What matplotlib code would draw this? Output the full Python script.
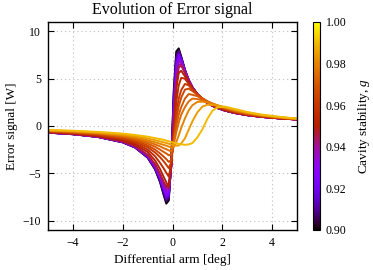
import matplotlib

matplotlib.use("Agg")
import matplotlib.pyplot as plt
import numpy as np
from matplotlib import cm, colors

plt.rcParams["font.family"] = ["Liberation Serif", "DejaVu Serif"]
plt.rcParams["mathtext.fontset"] = "custom"
plt.rcParams["mathtext.it"] = "Liberation Serif:italic"
plt.rcParams["mathtext.rm"] = "Liberation Serif"

# differential arm angle [deg], shared by all curves
arm_deg = [-5, -4, -3, -2, -1.5, -1, -0.7, -0.5, -0.35, -0.25, -0.15, -0.05, 0.05, 0.15, 0.25,
           0.35, 0.5, 0.65, 0.8, 1.0, 1.2, 1.4, 1.6, 1.8, 2.1, 2.5, 3, 3.6, 4.3, 5]

# cavity stability of each curve
g_values = [0.900, 0.905, 0.910, 0.915, 0.920, 0.925, 0.930, 0.935, 0.940, 0.945,
            0.950, 0.955, 0.960, 0.965, 0.970, 0.975, 0.980, 0.985, 0.990]

# error signal [W], one list per g
sig_0900 = [-0.70, -0.87, -1.16, -1.73, -2.29, -3.35, -4.59, -5.95, -7.35, -8.21, -7.88, -3.76, 3.76, 7.88, 8.21,
            7.35, 5.95, 4.88, 4.09, 3.35, 2.83, 2.45, 2.15, 1.92, 1.65, 1.39, 1.16, 0.97, 0.81, 0.70]
sig_0905 = [-0.70, -0.87, -1.15, -1.72, -2.27, -3.32, -4.53, -5.86, -7.20, -8.02, -7.72, -3.86, 3.32, 7.53, 8.04,
            7.28, 5.93, 4.87, 4.09, 3.35, 2.83, 2.45, 2.15, 1.92, 1.65, 1.39, 1.16, 0.97, 0.81, 0.70]
sig_0910 = [-0.70, -0.86, -1.15, -1.71, -2.26, -3.29, -4.48, -5.76, -7.05, -7.84, -7.56, -3.97, 2.88, 7.18, 7.87,
            7.21, 5.91, 4.86, 4.09, 3.35, 2.83, 2.45, 2.15, 1.92, 1.65, 1.39, 1.16, 0.97, 0.81, 0.70]
sig_0915 = [-0.69, -0.86, -1.14, -1.70, -2.24, -3.26, -4.42, -5.67, -6.91, -7.65, -7.39, -4.07, 2.44, 6.82, 7.70,
            7.13, 5.88, 4.86, 4.08, 3.35, 2.82, 2.44, 2.14, 1.91, 1.64, 1.38, 1.15, 0.96, 0.81, 0.69]
sig_0920 = [-0.69, -0.85, -1.13, -1.69, -2.23, -3.23, -4.37, -5.57, -6.76, -7.47, -7.23, -4.18, 2.00, 6.47, 7.53,
            7.06, 5.86, 4.85, 4.08, 3.35, 2.82, 2.44, 2.14, 1.91, 1.64, 1.38, 1.15, 0.96, 0.81, 0.69]
sig_0925 = [-0.69, -0.85, -1.13, -1.68, -2.21, -3.20, -4.31, -5.48, -6.61, -7.28, -7.07, -4.28, 1.56, 6.12, 7.36,
            6.99, 5.84, 4.84, 4.08, 3.35, 2.82, 2.44, 2.14, 1.91, 1.64, 1.38, 1.15, 0.96, 0.81, 0.69]
sig_0930 = [-0.69, -0.85, -1.13, -1.67, -2.19, -3.16, -4.24, -5.37, -6.44, -7.06, -6.85, -4.27, 1.17, 5.65, 7.07,
            6.84, 5.79, 4.82, 4.07, 3.35, 2.82, 2.44, 2.14, 1.91, 1.64, 1.38, 1.15, 0.96, 0.81, 0.69]
sig_0935 = [-0.68, -0.85, -1.12, -1.66, -2.18, -3.13, -4.18, -5.26, -6.27, -6.84, -6.63, -4.27, 0.78, 5.19, 6.78,
            6.69, 5.74, 4.80, 4.06, 3.34, 2.82, 2.44, 2.14, 1.91, 1.64, 1.38, 1.15, 0.96, 0.81, 0.69]
sig_0940 = [-0.68, -0.84, -1.12, -1.65, -2.16, -3.09, -4.11, -5.14, -6.10, -6.61, -6.41, -4.26, 0.39, 4.72, 6.48,
            6.54, 5.68, 4.78, 4.05, 3.34, 2.82, 2.43, 2.14, 1.91, 1.64, 1.38, 1.15, 0.96, 0.80, 0.69]
sig_0945 = [-0.67, -0.84, -1.11, -1.64, -2.14, -3.05, -4.04, -5.03, -5.93, -6.39, -6.19, -4.25, 0.00, 4.25, 6.19,
            6.39, 5.63, 4.76, 4.04, 3.33, 2.82, 2.43, 2.14, 1.91, 1.64, 1.38, 1.15, 0.96, 0.80, 0.69]
sig_0950 = [-0.64, -0.80, -1.05, -1.52, -1.97, -2.75, -3.65, -4.55, -5.40, -5.95, -6.50, -4.00, -0.40, 3.90, 5.60,
            5.85, 5.25, 4.55, 3.95, 3.35, 2.87, 2.50, 2.20, 1.97, 1.70, 1.42, 1.18, 0.98, 0.82, 0.70]
sig_0955 = [-0.61, -0.76, -0.99, -1.42, -1.82, -2.50, -3.20, -3.90, -4.50, -4.95, -5.35, -4.00, -0.90, 2.50, 4.30,
            5.10, 5.00, 4.45, 3.90, 3.35, 2.90, 2.55, 2.25, 2.02, 1.75, 1.46, 1.21, 1.00, 0.83, 0.71]
sig_0960 = [-0.58, -0.72, -0.93, -1.33, -1.68, -2.25, -2.80, -3.30, -3.75, -4.10, -4.45, -3.85, -1.30, 1.30, 2.90,
            3.80, 4.45, 4.30, 3.85, 3.35, 2.92, 2.58, 2.30, 2.06, 1.80, 1.50, 1.24, 1.02, 0.85, 0.72]
sig_0965 = [-0.56, -0.69, -0.88, -1.24, -1.55, -2.05, -2.50, -2.90, -3.25, -3.50, -3.80, -3.60, -1.50, 0.70, 2.10,
            3.00, 3.85, 3.95, 3.70, 3.30, 2.93, 2.60, 2.33, 2.10, 1.84, 1.54, 1.27, 1.04, 0.86, 0.73]
sig_0970 = [-0.53, -0.65, -0.83, -1.15, -1.43, -1.85, -2.20, -2.50, -2.75, -2.90, -3.10, -3.00, -1.60, 0.00, 1.20,
            2.00, 2.90, 3.38, 3.30, 3.15, 2.90, 2.62, 2.37, 2.14, 1.88, 1.58, 1.30, 1.07, 0.88, 0.74]
sig_0975 = [-0.50, -0.61, -0.78, -1.07, -1.32, -1.65, -1.95, -2.15, -2.35, -2.45, -2.58, -2.68, -1.90, -0.70, 0.35,
            1.20, 2.00, 2.60, 2.90, 2.85, 2.70, 2.55, 2.38, 2.18, 1.92, 1.62, 1.34, 1.10, 0.90, 0.75]
sig_0980 = [-0.48, -0.58, -0.73, -0.99, -1.21, -1.50, -1.72, -1.88, -2.00, -2.08, -2.18, -2.27, -2.25, -1.70, -1.00,
            -0.20, 0.80, 1.65, 2.20, 2.55, 2.58, 2.48, 2.35, 2.20, 1.96, 1.67, 1.38, 1.13, 0.92, 0.76]
sig_0985 = [-0.45, -0.54, -0.68, -0.90, -1.08, -1.32, -1.50, -1.63, -1.73, -1.80, -1.88, -1.96, -2.03, -2.08, -2.05,
            -1.85, -1.30, -0.40, 0.50, 1.45, 2.05, 2.25, 2.22, 2.15, 2.00, 1.73, 1.43, 1.16, 0.94, 0.77]
sig_0990 = [-0.42, -0.50, -0.62, -0.80, -0.95, -1.13, -1.28, -1.38, -1.47, -1.54, -1.62, -1.70, -1.77, -1.83, -1.89,
            -1.94, -1.99, -1.95, -1.80, -1.20, -0.35, 0.75, 1.60, 1.97, 2.05, 1.80, 1.48, 1.20, 0.97, 0.78]

signals = [sig_0900, sig_0905, sig_0910, sig_0915, sig_0920, sig_0925, sig_0930, sig_0935, sig_0940, sig_0945,
           sig_0950, sig_0955, sig_0960, sig_0965, sig_0970, sig_0975, sig_0980, sig_0985, sig_0990]

x_ticks = [-4, -2, 0, 2, 4]
y_ticks = [-10, -5, 0, 5, 10]
cbar_ticks = [0.90, 0.92, 0.94, 0.96, 0.98, 1.00]

cmap = plt.get_cmap("gnuplot")
norm = colors.Normalize(vmin=0.90, vmax=1.00)

fig = plt.figure(figsize=(3.73, 2.70), dpi=100)
ax = fig.add_axes([48 / 373, 1 - 230 / 270, 249 / 373, 208 / 270])

for g, sig in zip(g_values, signals):
    ax.plot(arm_deg, sig, color=cmap(norm(g)), linewidth=1.4, solid_joinstyle="round")

ax.set_xlim(-5, 5)
ax.set_ylim(-11, 11)
ax.set_xticks(x_ticks)
ax.set_yticks(y_ticks)
ax.tick_params(direction="in", top=True, right=True, length=4, width=0.8, labelsize=8.5, pad=5)
ax.grid(True, color="#c8c8c8", linestyle=(0, (1.2, 2.5)), linewidth=0.8)
for spine in ax.spines.values():
    spine.set_linewidth(1.0)

ax.set_title("Evolution of Error signal", fontsize=11.5, pad=6)
ax.set_xlabel("Differential arm [deg]", fontsize=9.5, labelpad=4)
ax.set_ylabel("Error signal [W]", fontsize=9.5, labelpad=3)

cax = fig.add_axes([313 / 373, 1 - 230 / 270, 7 / 373, 208 / 270])
sm = cm.ScalarMappable(norm=norm, cmap=cmap)
cb = fig.colorbar(sm, cax=cax, ticks=cbar_ticks)
cb.ax.set_yticklabels([f"{t:.2f}" for t in cbar_ticks])
cb.ax.tick_params(labelsize=8.5, length=0, pad=4)
cb.set_label("Cavity stability, $g$", fontsize=9.5, labelpad=7)
cb.outline.set_linewidth(0.8)

fig.savefig("out.png", dpi=100)
